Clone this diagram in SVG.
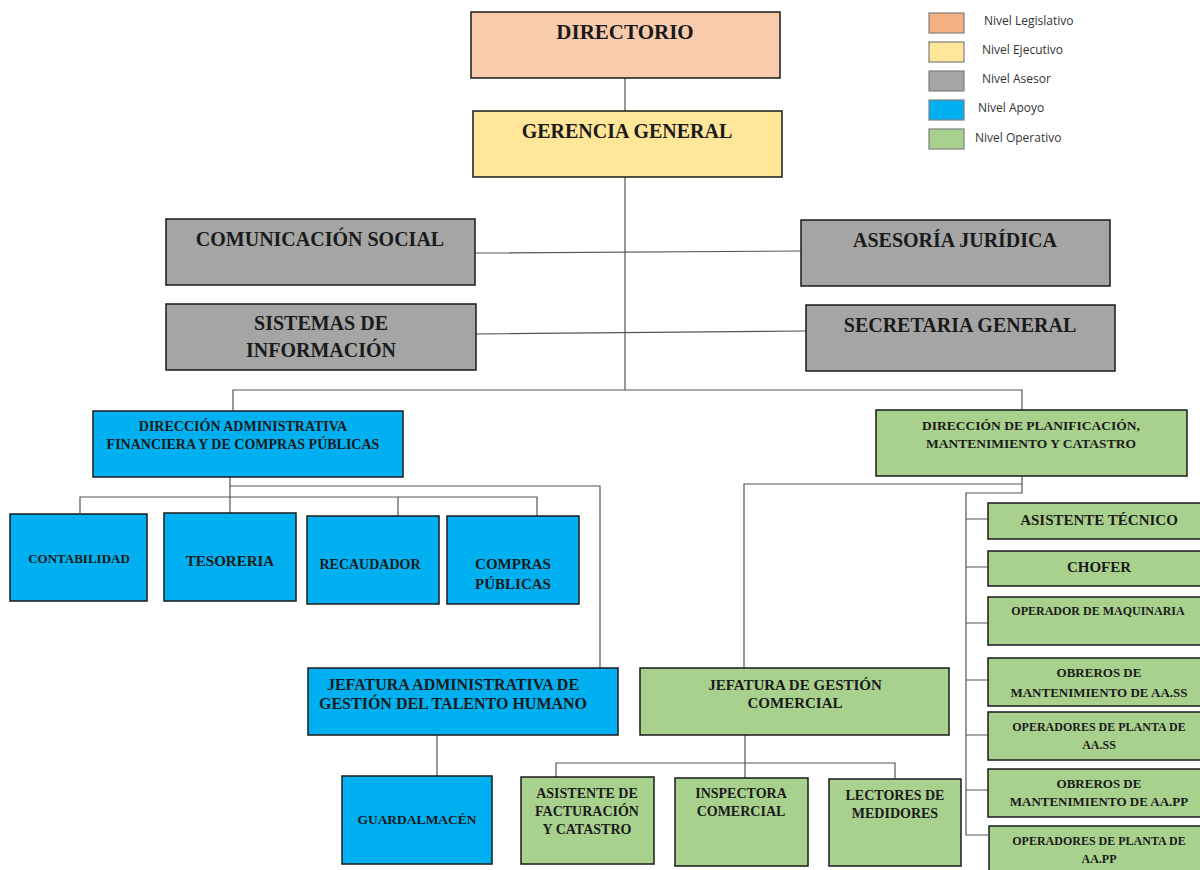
<svg xmlns="http://www.w3.org/2000/svg" width="1200" height="870" viewBox="0 0 1200 870">
<style>
.box{stroke:#1a1a1a;stroke-width:1.5}
.lsw{stroke:#7f7f7f;stroke-width:1.2}
.lt{font-family:"Open Sans","Liberation Sans",sans-serif;font-size:12px;fill:#333}
.t{font-family:"Liberation Serif","Times New Roman",serif;font-weight:bold;fill:#1a1a1a;text-anchor:middle}
.c{fill:none;stroke:#555;stroke-width:1.2}
.leg1{fill:#F4B183}.exe{fill:#FFE699}.ase{fill:#A5A5A5}.apo{fill:#00B0F0}.ope{fill:#A9D18E}.dir{fill:#F8CBAD}
</style>
<rect width="1200" height="870" fill="#fff"/>
<g id="legend">
<rect class="lsw leg1" x="929" y="13" width="35" height="20"/><text class="lt" x="984" y="25">Nivel Legislativo</text>
<rect class="lsw exe" x="929" y="42" width="35" height="20"/><text class="lt" x="982" y="54">Nivel Ejecutivo</text>
<rect class="lsw ase" x="929" y="71" width="35" height="20"/><text class="lt" x="982" y="83">Nivel Asesor</text>
<rect class="lsw apo" x="929" y="100" width="35" height="20"/><text class="lt" x="978" y="112">Nivel Apoyo</text>
<rect class="lsw ope" x="929" y="129" width="35" height="20"/><text class="lt" x="975" y="142">Nivel Operativo</text>
</g>
<g id="connectors">
<path class="c" d="M625 78V111M625 177V390M475 253L801 251M476 334L806 331M233 410V390H1022V410"/>
<path class="c" d="M230 477V513M230 486H600V668M80 513V497H537V516M398 497V516"/>
<path class="c" d="M437 735V776M745 735V778M556 777V763H895V778"/>
<path class="c" d="M1022 476V484H744V668M1022 484V493H966V835H988M966 519H988M966 567H988M966 623H988M966 680H988M966 735H988M966 790H988"/>
</g>
<g id="directorio"><rect class="box dir" x="471" y="12" width="309" height="66"/><text class="t" x="625" y="39" font-size="21">DIRECTORIO</text></g>
<g id="gerencia"><rect class="box exe" x="473" y="111" width="309" height="66"/><text class="t" x="627" y="138" font-size="20">GERENCIA GENERAL</text></g>
<g id="comunicacion"><rect class="box ase" x="166" y="219" width="309" height="66"/><text class="t" x="320" y="246" font-size="20">COMUNICACIÓN SOCIAL</text></g>
<g id="asesoria"><rect class="box ase" x="801" y="220" width="309" height="66"/><text class="t" x="955" y="247" font-size="20">ASESORÍA JURÍDICA</text></g>
<g id="sistemas"><rect class="box ase" x="166" y="304" width="310" height="66"/><text class="t" x="321" y="330" font-size="20">SISTEMAS DE</text><text class="t" x="321" y="357" font-size="20">INFORMACIÓN</text></g>
<g id="secretaria"><rect class="box ase" x="806" y="305" width="309" height="66"/><text class="t" x="960" y="332" font-size="20">SECRETARIA GENERAL</text></g>
<g id="daf"><rect class="box apo" x="93" y="411" width="310" height="66"/><text class="t" x="243" y="431" font-size="14">DIRECCIÓN ADMINISTRATIVA</text><text class="t" x="243" y="449" font-size="14">FINANCIERA Y DE COMPRAS PÚBLICAS</text></g>
<g id="dpmc"><rect class="box ope" x="876" y="410" width="311" height="66"/><text class="t" x="1031" y="430" font-size="13.5">DIRECCIÓN DE PLANIFICACIÓN,</text><text class="t" x="1031" y="448" font-size="13.5">MANTENIMIENTO Y CATASTRO</text></g>
<g id="contabilidad"><rect class="box apo" x="10" y="514" width="137" height="87"/><text class="t" x="79" y="563" font-size="13">CONTABILIDAD</text></g>
<g id="tesoreria"><rect class="box apo" x="164" y="513" width="132" height="88"/><text class="t" x="230" y="566" font-size="15">TESORERIA</text></g>
<g id="recaudador"><rect class="box apo" x="307" y="516" width="132" height="88"/><text class="t" x="370" y="569" font-size="14">RECAUDADOR</text></g>
<g id="compras"><rect class="box apo" x="447" y="516" width="132" height="88"/><text class="t" x="513" y="569" font-size="15">COMPRAS</text><text class="t" x="513" y="589" font-size="15">PÚBLICAS</text></g>
<g id="jefatura-th"><rect class="box apo" x="308" y="668" width="310" height="67"/><text class="t" x="453" y="690" font-size="16">JEFATURA ADMINISTRATIVA DE</text><text class="t" x="453" y="709" font-size="16">GESTIÓN DEL TALENTO HUMANO</text></g>
<g id="guardalmacen"><rect class="box apo" x="342" y="776" width="150" height="88"/><text class="t" x="417" y="824" font-size="13.5">GUARDALMACÉN</text></g>
<g id="jefatura-comercial"><rect class="box ope" x="640" y="668" width="309" height="67"/><text class="t" x="795" y="690" font-size="15">JEFATURA DE GESTIÓN</text><text class="t" x="795" y="708" font-size="15">COMERCIAL</text></g>
<g id="asistente-facturacion"><rect class="box ope" x="521" y="777" width="133" height="87"/><text class="t" x="587" y="798" font-size="14">ASISTENTE DE</text><text class="t" x="587" y="816" font-size="14">FACTURACIÓN</text><text class="t" x="587" y="834" font-size="14">Y CATASTRO</text></g>
<g id="inspectora"><rect class="box ope" x="675" y="778" width="133" height="88"/><text class="t" x="741" y="798" font-size="14">INSPECTORA</text><text class="t" x="741" y="816" font-size="14">COMERCIAL</text></g>
<g id="lectores"><rect class="box ope" x="829" y="779" width="132" height="87"/><text class="t" x="895" y="800" font-size="14">LECTORES DE</text><text class="t" x="895" y="818" font-size="14">MEDIDORES</text></g>
<g id="asistente-tecnico"><rect class="box ope" x="988" y="503" width="214" height="36"/><text class="t" x="1099" y="525" font-size="15">ASISTENTE TÉCNICO</text></g>
<g id="chofer"><rect class="box ope" x="988" y="551" width="214" height="35"/><text class="t" x="1099" y="572" font-size="15">CHOFER</text></g>
<g id="operador-maquinaria"><rect class="box ope" x="988" y="597" width="214" height="48"/><text class="t" x="1098" y="615" font-size="12">OPERADOR DE MAQUINARIA</text></g>
<g id="obreros-aass"><rect class="box ope" x="988" y="658" width="214" height="48"/><text class="t" x="1099" y="677" font-size="13">OBREROS DE</text><text class="t" x="1099" y="697" font-size="13">MANTENIMIENTO DE AA.SS</text></g>
<g id="operadores-aass"><rect class="box ope" x="988" y="712" width="214" height="48"/><text class="t" x="1099" y="731" font-size="12">OPERADORES DE PLANTA DE</text><text class="t" x="1099" y="749" font-size="12">AA.SS</text></g>
<g id="obreros-aapp"><rect class="box ope" x="988" y="769" width="214" height="48"/><text class="t" x="1099" y="788" font-size="13">OBREROS DE</text><text class="t" x="1099" y="806" font-size="13">MANTENIMIENTO DE AA.PP</text></g>
<g id="operadores-aapp"><rect class="box ope" x="989" y="826" width="214" height="50"/><text class="t" x="1099" y="845" font-size="12">OPERADORES DE PLANTA DE</text><text class="t" x="1099" y="863" font-size="12">AA.PP</text></g>
</svg>
